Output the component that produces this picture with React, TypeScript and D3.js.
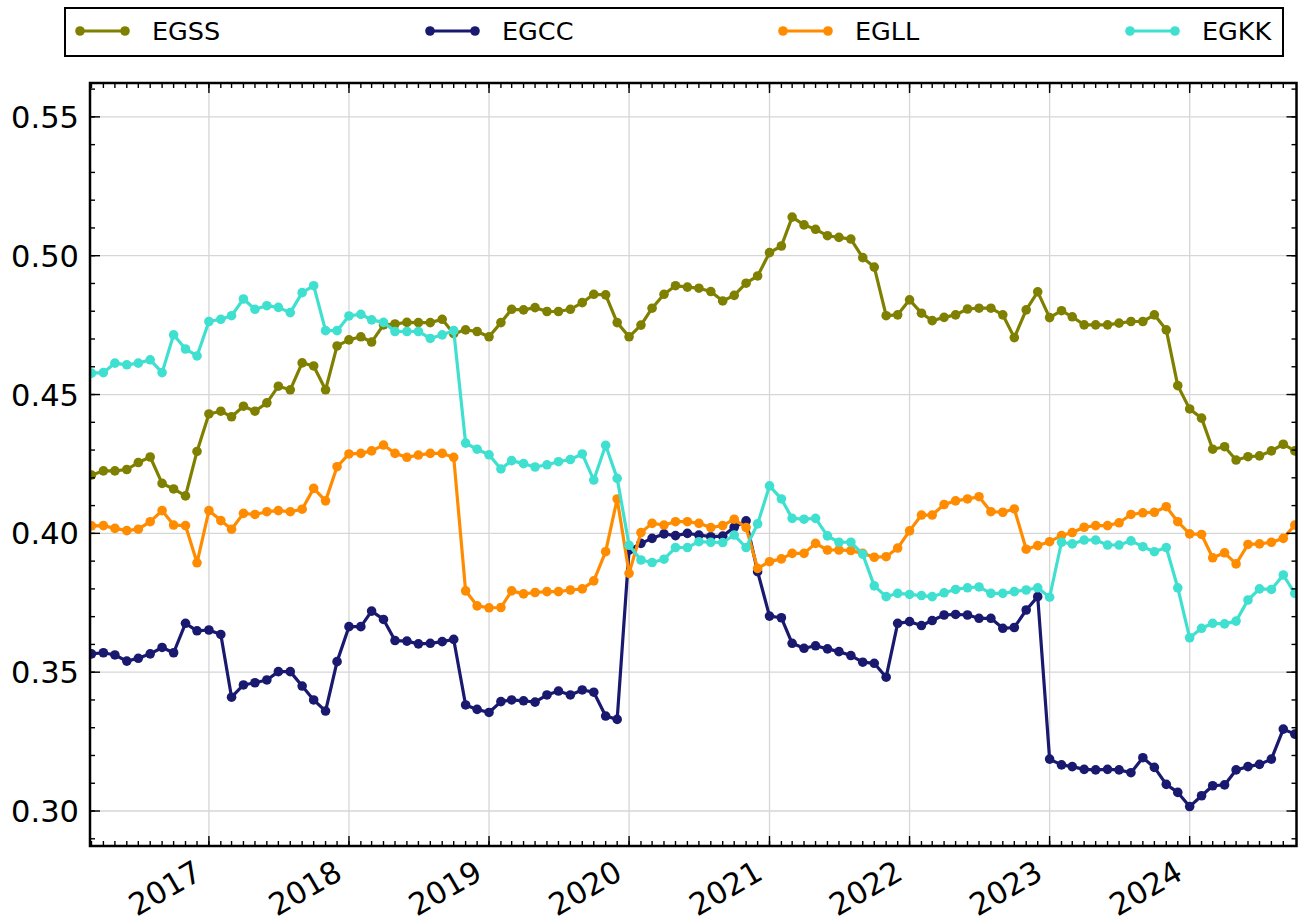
import React from "react";
import * as d3 from "d3";

const SERIES_NAMES = ["EGSS", "EGCC", "EGLL", "EGKK"];
const SERIES_COLORS = ["#808000", "#191970", "#ff8c00", "#40e0d0"];
const START_MONTH = new Date(2016, 2, 1);
const END_MONTH = new Date(2024, 9, 1);
const Y_TICKS = [0.3, 0.35, 0.4, 0.45, 0.5, 0.55];
const YEAR_TICKS = [2017, 2018, 2019, 2020, 2021, 2022, 2023, 2024];

const EGSS = [
  0.421, 0.4225, 0.4225, 0.423, 0.4255, 0.4275, 0.418, 0.416, 0.4135, 0.4295,
  0.443, 0.444, 0.442, 0.4458, 0.444, 0.447, 0.453, 0.4517, 0.4614, 0.4603,
  0.4517, 0.4675, 0.4697, 0.4708, 0.4689, 0.4751, 0.4754, 0.476, 0.4759, 0.4759,
  0.4771, 0.4719, 0.4733, 0.4727, 0.4708, 0.4759, 0.4807, 0.4805, 0.4813, 0.4799,
  0.4799, 0.4807, 0.4831, 0.4861, 0.4859, 0.4759, 0.4708, 0.475, 0.4811, 0.4861,
  0.4892, 0.4887, 0.4883, 0.4871, 0.4837, 0.4857, 0.4901, 0.4927, 0.5011, 0.5035,
  0.5139, 0.5111, 0.5095, 0.5072, 0.5066, 0.506, 0.4993, 0.4959, 0.4784, 0.4787,
  0.4841, 0.4793, 0.4766, 0.4778, 0.4787, 0.4808, 0.4811, 0.4811, 0.4787, 0.4705,
  0.4805, 0.487, 0.4777, 0.4802, 0.478, 0.4751, 0.4751, 0.4751, 0.4757, 0.4763,
  0.4763, 0.4787, 0.4733, 0.4532, 0.4448, 0.4415, 0.4303, 0.4312, 0.4264, 0.4276,
  0.4279, 0.4297, 0.4321, 0.4297,
];

const EGCC = [
  0.3566, 0.357, 0.3562, 0.354, 0.355, 0.3566, 0.3589, 0.357, 0.3676, 0.3649,
  0.3652, 0.3636, 0.341, 0.3454, 0.3462, 0.3472, 0.3502, 0.3502, 0.345, 0.34,
  0.336, 0.3538, 0.3664, 0.3664, 0.372, 0.369, 0.3614, 0.3612, 0.3602, 0.3604,
  0.361, 0.3618, 0.3382, 0.3366, 0.3355, 0.3394, 0.34, 0.3397, 0.3392, 0.3418,
  0.3432, 0.3418, 0.3436, 0.3428, 0.3342, 0.333, 0.394, 0.3964, 0.3982, 0.3998,
  0.3992, 0.4, 0.3994, 0.3988, 0.399, 0.4022, 0.4045, 0.3862, 0.3702, 0.3696,
  0.3604, 0.3586, 0.3595, 0.3584, 0.3574, 0.356, 0.3536, 0.3532, 0.3482, 0.3676,
  0.3682, 0.3668, 0.3686, 0.3706, 0.3708, 0.3706, 0.3694, 0.3694, 0.3658, 0.3661,
  0.3724, 0.3772, 0.3187, 0.3166, 0.316, 0.315, 0.3148, 0.315, 0.3148, 0.3138,
  0.3192, 0.3157, 0.3096, 0.3067, 0.3016, 0.3055, 0.3091, 0.3094, 0.3148, 0.316,
  0.3168, 0.3187, 0.3295, 0.3277,
];

const EGLL = [
  0.4027, 0.4028, 0.4018, 0.401, 0.4015, 0.4042, 0.4082, 0.403, 0.4028, 0.3894,
  0.4082, 0.4046, 0.4015, 0.4072, 0.4068, 0.4078, 0.4082, 0.4078, 0.4087, 0.4162,
  0.4117, 0.424, 0.4286, 0.4288, 0.4297, 0.4318, 0.4288, 0.4274, 0.4282, 0.4288,
  0.4288, 0.4274, 0.3793, 0.3739, 0.3732, 0.3733, 0.3793, 0.3782, 0.3787, 0.379,
  0.379, 0.3796, 0.38, 0.3829, 0.3934, 0.4124, 0.3856, 0.4003, 0.4036, 0.403,
  0.4042, 0.4042, 0.4036, 0.4021, 0.4028, 0.4051, 0.4021, 0.3874, 0.3898, 0.3908,
  0.3928, 0.3928, 0.3964, 0.394, 0.394, 0.3938, 0.3928, 0.3914, 0.3916, 0.3947,
  0.4009, 0.4066, 0.4066, 0.4104, 0.4117, 0.4124, 0.4132, 0.4078, 0.4076, 0.4088,
  0.3943, 0.3956, 0.397, 0.3992, 0.4003, 0.4022, 0.4028, 0.4028, 0.4038, 0.4068,
  0.4074, 0.4076, 0.4096, 0.4042, 0.3998, 0.3996, 0.3912, 0.393, 0.389, 0.396,
  0.3962, 0.3968, 0.3982, 0.403,
];

const EGKK = [
  0.4577, 0.4579, 0.4613, 0.4607, 0.4613, 0.4625, 0.4579, 0.4715, 0.4664, 0.4639,
  0.4763, 0.4771, 0.4784, 0.4844, 0.4807, 0.482, 0.4814, 0.4795, 0.4867, 0.4892,
  0.473, 0.473, 0.4783, 0.4789, 0.4769, 0.476, 0.4727, 0.4727, 0.4727, 0.4702,
  0.4715, 0.473, 0.4325, 0.4303, 0.4283, 0.4232, 0.4262, 0.4251, 0.4239, 0.4247,
  0.4258, 0.4266, 0.4286, 0.4192, 0.4317, 0.4198, 0.3957, 0.3904, 0.3895, 0.3907,
  0.3949, 0.3949, 0.397, 0.3968, 0.3967, 0.3994, 0.3949, 0.4034, 0.4171, 0.4124,
  0.4054, 0.4051, 0.4054, 0.3991, 0.3968, 0.3968, 0.3925, 0.3811, 0.3772, 0.3784,
  0.378, 0.3776, 0.3772, 0.3786, 0.3798, 0.3804, 0.3807, 0.3784, 0.3784, 0.379,
  0.3796, 0.3804, 0.377, 0.3968, 0.3962, 0.3976, 0.3976, 0.3958, 0.3958, 0.3973,
  0.3952, 0.3934, 0.3949, 0.3804, 0.3624, 0.3658, 0.3676, 0.3674, 0.3684, 0.376,
  0.38, 0.3798, 0.385, 0.3784,
];

const SERIES_VALUES = [EGSS, EGCC, EGLL, EGKK];

const W = 1305;
const H = 924;
const FRAME = { left: 90, right: 1296.5, top: 83, bottom: 846 };
const FONT = "'DejaVu Sans', Verdana, sans-serif";
const TICK_FONT = 30.5;

export default function App() {
  const months = d3.timeMonth.range(START_MONTH, d3.timeMonth.offset(END_MONTH, 1));
  const x = d3.scaleTime().domain([START_MONTH, END_MONTH]).range([91.5, 1294.8]);
  const y = d3.scaleLinear().domain([0.2874, 0.5622]).range([FRAME.bottom, FRAME.top]);

  const line = d3
    .line<number>()
    .x((_, i) => x(months[i]))
    .y((v) => y(v));

  const yearDates = YEAR_TICKS.map((yr) => new Date(yr, 0, 1));
  const minorMonths = d3.timeMonth.range(START_MONTH, END_MONTH);
  const minorY = d3.range(29, 57).map((k) => k / 100);

  const fw = FRAME.right - FRAME.left;
  const fh = FRAME.bottom - FRAME.top;

  const legendBox = { x: 65, y: 8, w: 1218, h: 48 };
  const legendStarts = [80, 430, 783, 1130];

  return (
    <svg
      width={W}
      height={H}
      style={{ position: "absolute", left: 0, top: 0, background: "#fff" }}
      fontFamily={FONT}
    >
      <defs>
        <clipPath id="plotclip">
          <rect x={FRAME.left} y={FRAME.top} width={fw} height={fh} />
        </clipPath>
      </defs>
      <rect x={0} y={0} width={W} height={H} fill="#fff" />

      <g stroke="#d6d6d6" strokeWidth={1.3}>
        {yearDates.map((d, i) => (
          <line key={"gx" + i} x1={x(d)} x2={x(d)} y1={FRAME.top} y2={FRAME.bottom} />
        ))}
        {Y_TICKS.map((v, i) => (
          <line key={"gy" + i} x1={FRAME.left} x2={FRAME.right} y1={y(v)} y2={y(v)} />
        ))}
      </g>

      <g clipPath="url(#plotclip)">
        {SERIES_VALUES.map((vals, s) => (
          <g key={"s" + s}>
            <path d={line(vals) || ""} fill="none" stroke={SERIES_COLORS[s]} strokeWidth={3.2} strokeLinejoin="round" />
            {vals.map((v, i) => (
              <circle key={i} cx={x(months[i])} cy={y(v)} r={4.8} fill={SERIES_COLORS[s]} />
            ))}
          </g>
        ))}
      </g>

      <g stroke="#000" strokeWidth={1.4}>
        {minorMonths.map((d, i) => (
          <g key={"mx" + i}>
            <line x1={x(d)} x2={x(d)} y1={FRAME.bottom} y2={FRAME.bottom - 5} />
            <line x1={x(d)} x2={x(d)} y1={FRAME.top} y2={FRAME.top + 5} />
          </g>
        ))}
        {yearDates.map((d, i) => (
          <g key={"Mx" + i}>
            <line x1={x(d)} x2={x(d)} y1={FRAME.bottom} y2={FRAME.bottom - 10} />
            <line x1={x(d)} x2={x(d)} y1={FRAME.top} y2={FRAME.top + 10} />
          </g>
        ))}
        {minorY.map((v, i) => (
          <g key={"my" + i}>
            <line x1={FRAME.left} x2={FRAME.left + 5} y1={y(v)} y2={y(v)} />
            <line x1={FRAME.right} x2={FRAME.right - 5} y1={y(v)} y2={y(v)} />
          </g>
        ))}
        {Y_TICKS.map((v, i) => (
          <g key={"My" + i}>
            <line x1={FRAME.left} x2={FRAME.left + 10} y1={y(v)} y2={y(v)} />
            <line x1={FRAME.right} x2={FRAME.right - 10} y1={y(v)} y2={y(v)} />
          </g>
        ))}
      </g>

      <rect x={FRAME.left} y={FRAME.top} width={fw} height={fh} fill="none" stroke="#000" strokeWidth={2.5} />

      {Y_TICKS.map((v, i) => (
        <text key={"yl" + i} x={79} y={y(v) + 11} textAnchor="end" fontSize={TICK_FONT} fill="#000">
          {d3.format(".2f")(v)}
        </text>
      ))}

      {yearDates.map((d, i) => (
        <text
          key={"xl" + i}
          transform={`translate(${x(d) - 5},${878}) rotate(-30)`}
          textAnchor="end"
          fontSize={TICK_FONT}
          fill="#000"
        >
          {String(YEAR_TICKS[i])}
        </text>
      ))}

      <rect x={legendBox.x} y={legendBox.y} width={legendBox.w} height={legendBox.h} fill="#fff" stroke="#000" strokeWidth={2} />
      {SERIES_NAMES.map((name, s) => {
        const lx = legendStarts[s];
        const ly = 31;
        return (
          <g key={"lg" + s}>
            <line x1={lx} x2={lx + 45} y1={ly} y2={ly} stroke={SERIES_COLORS[s]} strokeWidth={3.2} />
            <circle cx={lx} cy={ly} r={4.8} fill={SERIES_COLORS[s]} />
            <circle cx={lx + 45} cy={ly} r={4.8} fill={SERIES_COLORS[s]} />
            <text x={lx + 72} y={ly + 9.3} fontSize={25.5} fill="#000">
              {name}
            </text>
          </g>
        );
      })}
    </svg>
  );
}
